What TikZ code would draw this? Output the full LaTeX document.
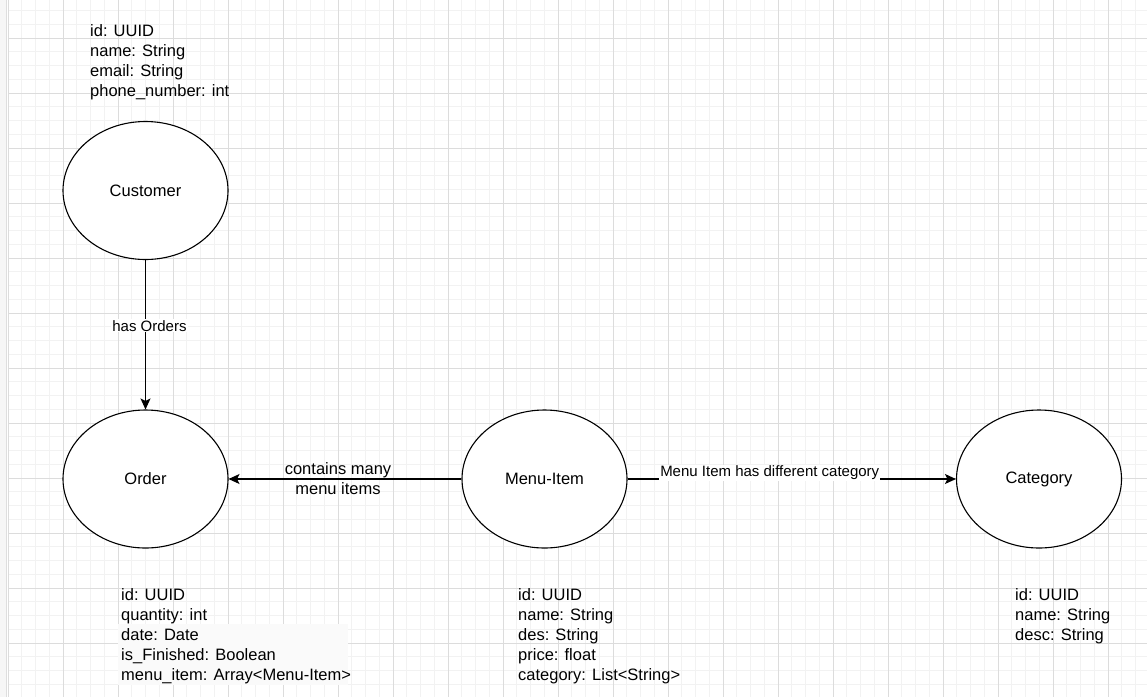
\documentclass[tikz,border=0pt]{standalone}
\usepackage{fontspec}
\setmainfont{Liberation Sans}
\usetikzlibrary{shapes.geometric,arrows.meta}
\definecolor{gridminor}{HTML}{F2F2F2}
\definecolor{gridmajor}{HTML}{DCDCDC}
\definecolor{stripbg}{HTML}{F6F6F6}
\definecolor{stripline}{HTML}{DEDEDE}
\definecolor{attrbg}{HTML}{FAFAFA}
\tikzset{
  entity/.style={draw=black, line width=1.1pt, ellipse, minimum width=165pt, minimum height=138pt, inner sep=0pt, fill=white,
    font=\fontsize{16.5}{20}\selectfont},
  attr/.style={anchor=base west, align=left, inner sep=0pt, font=\fontsize{16.5}{20}\selectfont},
  conn/.style={draw=black, line width=1.1pt, -{Stealth[length=11pt,width=10pt,inset=2.5pt]}},
  elabel/.style={font=\fontsize{15}{18}\selectfont, inner sep=1pt},
  biglabel/.style={font=\fontsize{16.5}{20}\selectfont, align=center, inner sep=0pt},
}
\begin{document}
\begin{tikzpicture}[x=1pt,y=-1pt]
\useasboundingbox (0,0) rectangle (1147,697);
\fill[white] (0,0) rectangle (1147,697);
% grid
\foreach \i in {0,...,83} {\draw[gridminor, line width=0.8pt] ({8+13.75*\i},0) -- ({8+13.75*\i},697);}
\foreach \j in {-2,...,48} {\draw[gridminor, line width=0.8pt] (8,{38+13.75*\j}) -- (1147,{38+13.75*\j});}
\foreach \i in {0,...,20} {\draw[gridmajor, line width=0.9pt] ({8+55*\i},0) -- ({8+55*\i},697);}
\foreach \j in {0,...,11} {\draw[gridmajor, line width=0.9pt] (8,{38+55*\j}) -- (1147,{38+55*\j});}
% left strip
\fill[stripbg] (0,0) rectangle (6,697);
\draw[stripline, line width=1.5pt] (6.5,0) -- (6.5,697);
% order attribute background
\fill[attrbg] (118,624) rectangle (348,685);

% entities
\node[entity] (cust) at (145.5,190.5) {Customer};
\node[entity] (order) at (145.5,479) {Order};
\node[entity] (menu) at (544.5,479) {Menu-Item};
\node[entity] (cat) at (1039,479) {Category};

% attributes (anchored at the baseline of the last line)
\node[attr] (custattr) at (90,96) {id: UUID\\name: String\\email: String\\phone\_number: int};
\node[attr] (orderattr) at (121,680) {id: UUID\\quantity: int\\date: Date\\is\_Finished: Boolean\\menu\_item: Array<Menu-Item>};
\node[attr] (menuattr) at (518,680) {id: UUID\\name: String\\des: String\\price: float\\category: List<String>};
\node[attr] (catattr) at (1015,640) {id: UUID\\name: String\\desc: String};

% connectors
\draw[conn] (cust) -- node[elabel, fill=white, pos=0.44, xshift=4pt] {has Orders} (order);
\draw[conn] (menu) -- node[biglabel, pos=0.53] {contains many\\menu items} (order);
\draw[conn] (menu) -- node[elabel, fill=white, pos=0.433, yshift=6pt] {Menu Item has different category} (cat);
\end{tikzpicture}
\end{document}
